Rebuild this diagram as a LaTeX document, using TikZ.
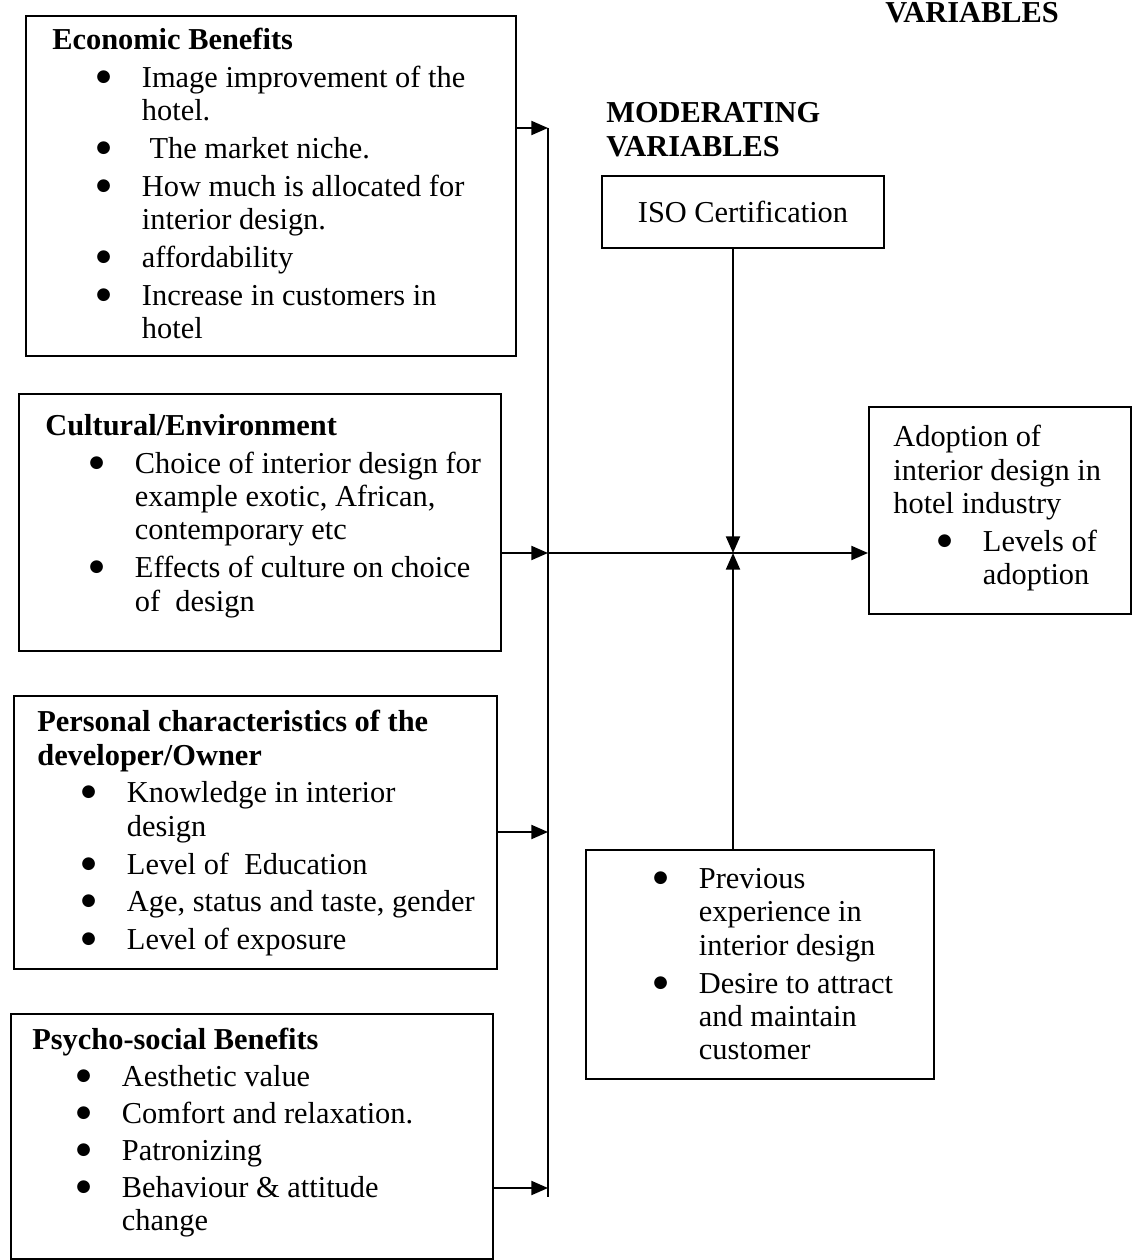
\documentclass[tikz,border=0pt]{standalone}
\usepackage{fontspec}
\setmainfont{Liberation Serif}
\newfontfamily\dotfont{DejaVu Sans}
\usetikzlibrary{arrows.meta}

\newlength{\px}
\setlength{\px}{0.02cm}
\newcommand{\bul}{\hspace*{25pt}\makebox[26pt][l]{\raisebox{3.4pt}{\dotfont\fontsize{9.5}{9.5}\selectfont ●}}}
\newcommand{\cnt}{\hspace*{51pt}}

\tikzset{
  frame/.style={draw, line width=1.1pt, anchor=north west, inner sep=0pt},
  txt/.style={anchor=north west, align=left, inner sep=0pt,
    font=\fontsize{17.3}{19}\selectfont},
  link/.style={line width=1.1pt},
  arr/.style={link, -{Triangle[length=9.5pt, width=8pt]}}
}

\begin{document}
\begin{tikzpicture}[x=0.02cm, y=-0.02cm]
  \useasboundingbox (0,0) rectangle (1138,1260);

  % independent variables
  \node[frame, minimum width=490\px, minimum height=340\px] (econ) at (25,15) {};
  \node[frame, minimum width=482\px, minimum height=257\px] (cult) at (18,393) {};
  \node[frame, minimum width=483\px, minimum height=273\px] (pers) at (13,695) {};
  \node[frame, minimum width=482\px, minimum height=245\px] (psych) at (10,1013) {};

  \node[txt] (econ-txt) at (52,28) {\textbf{Economic Benefits}\\[2.5pt]
    \bul Image improvement of the\\
    \cnt hotel.\\[2.5pt]
    \bul\ The market niche.\\[2.5pt]
    \bul How much is allocated for\\
    \cnt interior design.\\[2.5pt]
    \bul affordability\\[2.5pt]
    \bul Increase in customers in\\
    \cnt hotel};
  \node[txt] (cult-txt) at (45,414) {\textbf{Cultural/Environment}\\[2.5pt]
    \bul Choice of interior design for\\
    \cnt example exotic, African,\\
    \cnt contemporary etc\\[2.5pt]
    \bul Effects of culture on choice\\
    \cnt of\ \ design};
  \node[txt] (pers-txt) at (37,710) {\textbf{Personal characteristics of the}\\
    \textbf{developer/Owner}\\[2.5pt]
    \bul Knowledge in interior\\
    \cnt design\\[2.5pt]
    \bul Level of\ \ Education\\[2.5pt]
    \bul Age, status and taste, gender\\[2.5pt]
    \bul Level of exposure};
  \node[txt] (psych-txt) at (32,1028) {\textbf{Psycho-social Benefits}\\[2pt]
    \bul Aesthetic value\\[2pt]
    \bul Comfort and relaxation.\\[2pt]
    \bul Patronizing\\[2pt]
    \bul Behaviour \& attitude\\
    \cnt change};

  % moderating and dependent variables
  \node[txt, font=\fontsize{17.3}{19.4}\selectfont\bfseries] (dep-label) at (885,2) {VARIABLES};
  \node[txt, font=\fontsize{17.3}{19.4}\selectfont\bfseries] (mod-label) at (606,102) {MODERATING\\VARIABLES};
  \node[frame, minimum width=282\px, minimum height=72\px,
    font=\fontsize{17.3}{19}\selectfont] (iso) at (601,175) {ISO Certification};

  \node[frame, minimum width=262\px, minimum height=207\px] (adopt) at (868,406) {};
  \node[txt] (adopt-txt) at (893,425) {Adoption of\\
    interior design in\\
    hotel industry\\[2.5pt]
    \bul Levels of\\
    \cnt adoption};

  \node[frame, minimum width=348\px, minimum height=229\px] (exper) at (585,849) {};
  \node[txt] (exper-txt) at (609,868) {\bul Previous\\
    \cnt experience in\\
    \cnt interior design\\[2.5pt]
    \bul Desire to attract\\
    \cnt and maintain\\
    \cnt customer};

  % bus and hub
  \coordinate (b1) at (548,128);
  \coordinate (b2) at (548,553);
  \coordinate (b3) at (548,832);
  \coordinate (b4) at (548,1188);
  \coordinate (b-end) at (548,1197);
  \coordinate (hub) at (733,553);

  \draw[link] (b1) -- (b-end);
  \path[arr]
    (econ.east |- b1) edge (b1)
    (cult.east |- b2) edge (b2)
    (pers.east |- b3) edge (b3)
    (psych.east |- b4) edge (b4)
    (b2) edge (adopt.west |- b2)
    (iso.south -| hub) edge (hub)
    (exper.north -| hub) edge (hub);
\end{tikzpicture}
\end{document}
